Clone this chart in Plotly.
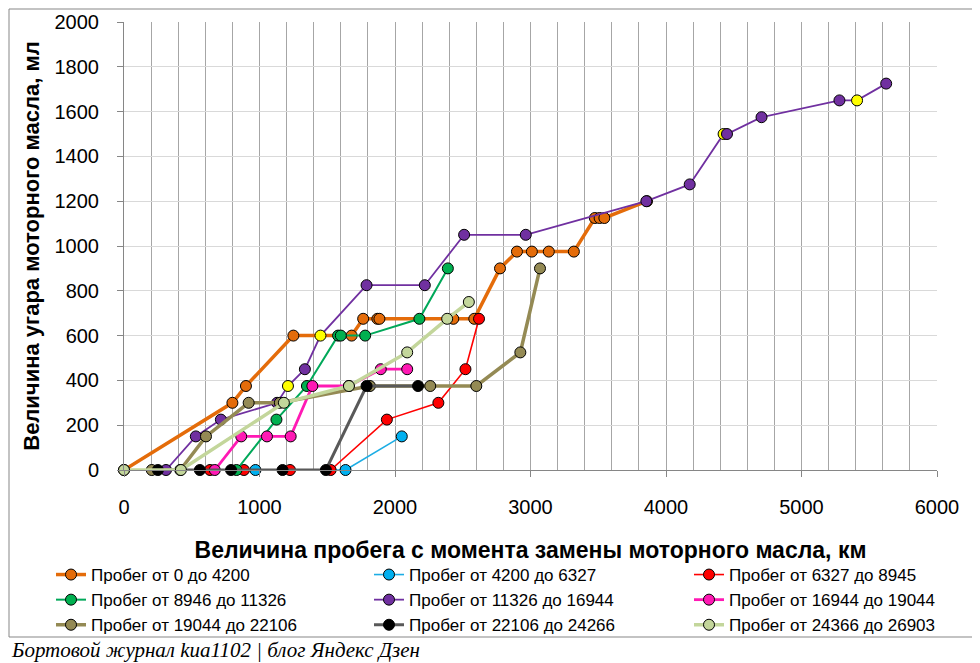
import plotly.graph_objects as go

# Пробег с момента замены масла (км) и угар масла (мл) для каждого интервала
orange_x = [0, 800, 900, 1250, 1680, 1765, 1870, 1885, 2430, 2585, 2775, 2900, 3010, 3135, 3320, 3475, 3510, 3545, 3860]
orange_y = [0, 300, 375, 600, 600, 675, 675, 675, 675, 675, 900, 975, 975, 975, 975, 1125, 1125, 1125, 1200]

blue_x = [970, 1635, 2050]
blue_y = [0, 0, 150]

red_x = [635, 885, 1225, 1525, 1940, 2320, 2520, 2620]
red_y = [0, 0, 0, 0, 225, 300, 450, 675]

green_x = [830, 1125, 1350, 1580, 1600, 1780, 2180, 2390]
green_y = [0, 225, 375, 600, 600, 600, 675, 900]

purple_x = [310, 530, 715, 1130, 1210, 1335, 1450, 1790, 2220, 2510, 2965, 3855, 4175, 4425, 4450, 4705, 5280, 5410, 5625]
purple_y = [0, 150, 225, 300, 375, 450, 600, 825, 825, 1050, 1050, 1200, 1275, 1500, 1500, 1575, 1650, 1650, 1725]
purple_yellow = [False, False, False, False, True, False, True, False, False, False, False, False, False, True, False, False, False, True, False]

magenta_x = [670, 865, 1055, 1230, 1390, 1660, 1895, 2090]
magenta_y = [0, 150, 150, 150, 375, 375, 450, 450]

olive_x = [205, 415, 605, 920, 1150, 1815, 2260, 2600, 2925, 3070]
olive_y = [0, 0, 150, 300, 300, 375, 375, 375, 525, 900]

black_x = [250, 560, 790, 1170, 1490, 1790, 2170]
black_y = [0, 0, 0, 0, 0, 375, 375]

pale_x = [0, 420, 1180, 1660, 2090, 2385, 2545]
pale_y = [0, 0, 300, 375, 525, 675, 750]

series = [
    ("Пробег от 0 до 4200", orange_x, orange_y, '#E46C0A', '#E46C0A', 3.5),
    ("Пробег от 4200 до 6327", blue_x, blue_y, '#1CADE4', '#00B0F0', 1.6),
    ("Пробег от 6327 до 8945", red_x, red_y, '#FF0000', '#FF0000', 1.6),
    ("Пробег от 8946 до 11326", green_x, green_y, '#00A859', '#00B050', 2),
    ("Пробег от 11326 до 16944", purple_x, purple_y, '#7030A0', '#7030A0', 1.8),
    ("Пробег от 16944 до 19044", magenta_x, magenta_y, '#FF19B4', '#FF19B4', 2.8),
    ("Пробег от 19044 до 22106", olive_x, olive_y, '#948A54', '#948A54', 3.5),
    ("Пробег от 22106 до 24266", black_x, black_y, '#595959', '#000000', 3),
    ("Пробег от 24366 до 26903", pale_x, pale_y, '#C3D69B', '#C3D69B', 3.5),
]

legend_ids = ['legend', 'legend2', 'legend3']

fig = go.Figure()

for i, (name, xs, ys, line_color, marker_color, width) in enumerate(series):
    if xs is purple_x:
        mcolor = ['#FFFF00' if f else marker_color for f in purple_yellow]
    else:
        mcolor = marker_color
    fig.add_trace(go.Scatter(
        x=xs, y=ys, name=name, mode='lines+markers',
        line=dict(color=line_color, width=width),
        marker=dict(size=11, color=mcolor, line=dict(color='#000000', width=1)),
        cliponaxis=False, legend=legend_ids[i % 3]
    ))

axis_font = dict(family='Liberation Sans, Arial, sans-serif', size=20, color='#000000')
legend_font = dict(family='Liberation Sans, Arial, sans-serif', size=17, color='#000000')
legend_top = (470 - 557) / 448


def legend_column(px):
    return dict(orientation='v', x=(px - 124) / 813, xanchor='left', y=legend_top, yanchor='top',
                itemwidth=30, font=legend_font, tracegroupgap=0, bgcolor='rgba(0,0,0,0)')


# страница html имеет отступ 8px, поэтому фигура чуть меньше окна
fig.update_layout(
    width=972, height=655,
    paper_bgcolor='white', plot_bgcolor='white',
    margin=dict(l=116, r=43, t=14, b=193, autoexpand=False),
    xaxis=dict(
        range=[0, 6000], dtick=1000, tick0=0,
        showgrid=True, gridcolor='#A6A6A6', gridwidth=1,
        minor=dict(dtick=200, showgrid=True, gridcolor='#A6A6A6', gridwidth=1),
        ticks='outside', ticklen=6, tickcolor='#868686',
        showline=True, linecolor='#868686', linewidth=1,
        zeroline=False, tickfont=axis_font, ticklabelstandoff=13,
        title=dict(text='<b>Величина пробега с момента замены моторного масла, км</b>',
                   font=dict(family='Liberation Sans, Arial, sans-serif', size=23, color='#000000'),
                   standoff=24),
    ),
    yaxis=dict(
        range=[0, 2000], dtick=200, tick0=0,
        showgrid=True, gridcolor='#D9D9D9', gridwidth=1,
        ticks='outside', ticklen=6, tickcolor='#868686',
        showline=True, linecolor='#868686', linewidth=1,
        zeroline=False, tickfont=axis_font, ticklabelstandoff=14,
        title=dict(text='<b>Величина угара моторного масла, мл</b>',
                   font=dict(family='Liberation Sans, Arial, sans-serif', size=22, color='#000000'),
                   standoff=8),
    ),
    legend=legend_column(51),
    legend2=legend_column(369),
    legend3=legend_column(689),
    showlegend=True,
)

# рамка вокруг диаграммы
fig.add_shape(type='rect', xref='paper', yref='paper',
              x0=(9 - 124) / 813, x1=(975 - 124) / 813,
              y0=(470 - 637) / 448, y1=(470 - 9) / 448,
              line=dict(color='#878787', width=1), layer='below')

fig.add_annotation(
    text='<i>Бортовой журнал kua1102 | блог Яндекс Дзен</i>',
    xref='paper', yref='paper', x=(9 - 124) / 813, y=(470 - 650) / 448,
    xanchor='left', yanchor='middle', showarrow=False,
    font=dict(family='Liberation Serif, serif', size=21, color='#000000'),
)

fig.write_html("out.html")
